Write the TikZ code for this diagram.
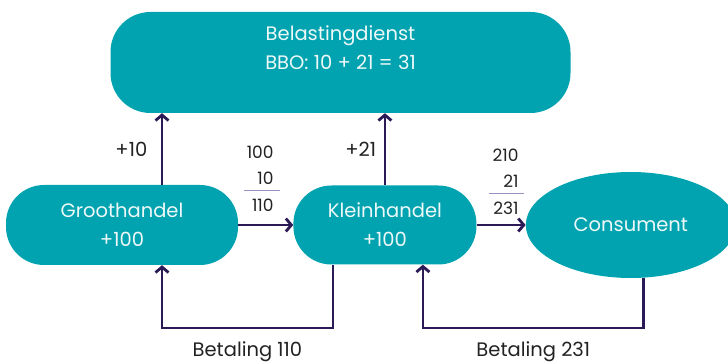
\documentclass[tikz,border=0pt]{standalone}
\usepackage{fontspec}
\setmainfont{Poppins}
\usepackage{colortbl}
\usetikzlibrary{arrows.meta,positioning,shapes.geometric}

\definecolor{bdteal}{HTML}{00A3AF}
\definecolor{bdflow}{HTML}{2B1A56}
\definecolor{bdrule}{HTML}{9A8FC0}
\definecolor{bdtext}{HTML}{222222}
\definecolor{bdwhite}{HTML}{EEF8F8}

\begin{document}
\begin{tikzpicture}[x=1pt,y=-1pt,>={Straight Barb[length=5.5pt,width=13pt]},
                    node distance=55pt,font=\fontsize{19.5}{29}\selectfont]
  \tikzstyle{party}=[fill=bdteal,draw=none,text=bdwhite,align=center]
  \tikzstyle{flow}=[->,draw=bdflow,line width=2.8pt]
  \tikzstyle{lab}=[text=bdtext]
  \tikzstyle{sum}=[text=bdtext,inner sep=0pt,font=\fontsize{17}{26}\selectfont]
  \useasboundingbox (0,0) rectangle (728,363);

  \node[party,rounded corners=40pt,minimum width=460pt,minimum height=101pt]
        (bbo) at (340.5,62.5) {Belastingdienst\\BBO: 10 + 21 = 31\\~};
  \node[party,rounded corners=38pt,minimum width=232pt,minimum height=80pt]
        (groot) at (122,225) {Groothandel\\+100};
  \node[party,rounded corners=38pt,minimum width=183pt,minimum height=79pt]
        (klein) [right=55pt of groot] {Kleinhandel\\+100};
  \node[party,ellipse,minimum width=210pt,minimum height=106pt]
        (cons) [right=49pt of klein] {Consument};
  \coordinate (bot) at (0,328);

  % afdracht aan de belastingdienst
  \draw[flow] ([xshift=40pt]groot.north)
        -- node[lab,left=10pt] (plus10) {+10} ([xshift=40pt]groot.north |- bbo.south);
  \draw[flow] (klein.north)
        -- node[lab,left=4pt] (plus21) {+21} (klein.north |- bbo.south);

  % leveringen
  \draw[flow] (groot.east) -- node[sum,midway,above=4pt,xshift=-4pt] (sum1)
        {\arrayrulecolor{bdrule}\setlength{\arrayrulewidth}{1pt}%
         \begin{tabular}{@{\hspace{3pt}}r@{\hspace{6pt}}}100\\10\\[-3pt]\hline
         \rule{0pt}{21pt}110\end{tabular}} (klein.west);
  \draw[flow] (klein.east) -- node[sum,midway,above=1pt,xshift=5pt] (sum2)
        {\arrayrulecolor{bdrule}\setlength{\arrayrulewidth}{1pt}%
         \begin{tabular}{@{\hspace{4pt}}r@{\hspace{5pt}}}210\\21\\[-3pt]\hline
         \rule{0pt}{21pt}231\end{tabular}} (cons.west);

  % betalingen
  \draw[flow] ([xshift=-52pt]klein.south) |- node[lab,pos=0.75,below=9pt] (pay1)
        {Betaling 110} ([xshift=40pt]groot.south |- bot) -- ([xshift=40pt]groot.south);
  \draw[flow] ([xshift=13pt]cons.south) |- node[lab,pos=0.75,below=9pt] (pay2)
        {Betaling 231} ([xshift=38pt]klein.south |- bot) -- ([xshift=38pt]klein.south);
\end{tikzpicture}
\end{document}
